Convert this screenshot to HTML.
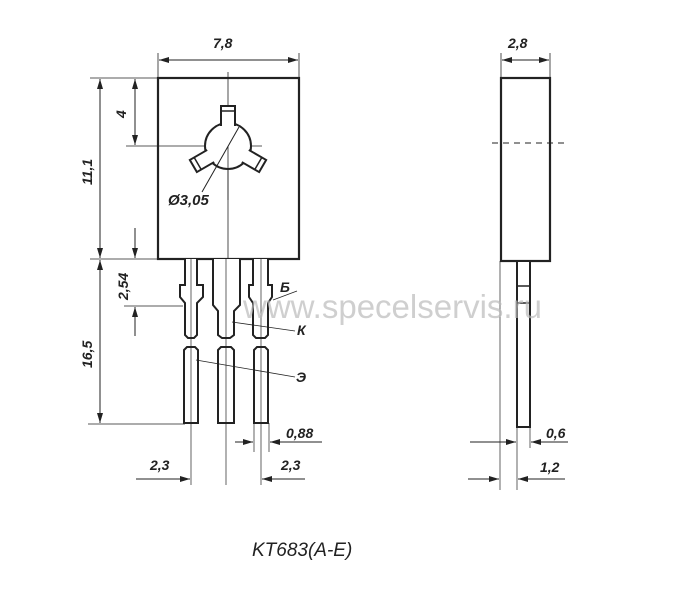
<!DOCTYPE html>
<html><head><meta charset="utf-8"><style>
html,body{margin:0;padding:0;background:#fff;}
svg{display:block;}
text{font-family:"Liberation Sans","DejaVu Sans",sans-serif;font-style:italic;font-weight:bold;fill:#222;}
</style></head><body>
<svg width="686" height="600" viewBox="0 0 686 600" xmlns="http://www.w3.org/2000/svg">
<defs>
<marker id="a" viewBox="0 0 10 6" refX="10" refY="3" markerWidth="10" markerHeight="6" orient="auto-start-reverse" markerUnits="userSpaceOnUse"><path d="M0,0 L10,3 L0,6 z" fill="#222"/></marker>
</defs>
<g stroke="#222" fill="none">
<!-- front body -->
<rect x="158" y="78" width="141" height="181" stroke-width="2.2" fill="#fff"/>
<!-- center lines -->
<line x1="228" y1="72" x2="228" y2="259" stroke-width="0.8"/>
<line x1="126" y1="146" x2="262" y2="146" stroke-width="0.8"/>
<!-- hole -->
<circle cx="228" cy="146" r="23" stroke-width="2" fill="#fff"/>
<g id="tab">
<path d="M221,126 L221,106 L235,106 L235,126" stroke-width="2" fill="#fff"/>
<line x1="221" y1="111" x2="235" y2="111" stroke-width="1.5"/>
</g>
<g transform="rotate(120,228,146)">
<path d="M221,126 L221,106 L235,106 L235,126" stroke-width="2" fill="#fff"/>
<line x1="221" y1="111" x2="235" y2="111" stroke-width="1.5"/>
</g>
<g transform="rotate(240,228,146)">
<path d="M221,126 L221,106 L235,106 L235,126" stroke-width="2" fill="#fff"/>
<line x1="221" y1="111" x2="235" y2="111" stroke-width="1.5"/>
</g>
<line x1="228" y1="146" x2="228" y2="200" stroke-width="0.8"/>
<line x1="239" y1="127" x2="202" y2="192" stroke-width="1"/>
<!-- dims top -->
<line x1="158" y1="53" x2="158" y2="78" stroke-width="0.8"/>
<line x1="299" y1="53" x2="299" y2="78" stroke-width="0.8"/>
<line x1="159" y1="60" x2="298" y2="60" stroke-width="1" marker-start="url(#a)" marker-end="url(#a)"/>
<!-- left dims -->
<line x1="90" y1="78" x2="158" y2="78" stroke-width="0.8"/>
<line x1="90" y1="259" x2="184" y2="259" stroke-width="0.8"/>
<line x1="100" y1="79" x2="100" y2="258" stroke-width="1" marker-start="url(#a)" marker-end="url(#a)"/>
<line x1="135" y1="79" x2="135" y2="145" stroke-width="1" marker-start="url(#a)" marker-end="url(#a)"/>
<line x1="135" y1="228" x2="135" y2="258" stroke-width="1" marker-end="url(#a)"/>
<line x1="135" y1="336" x2="135" y2="307" stroke-width="1" marker-end="url(#a)"/>
<line x1="124" y1="306" x2="183" y2="306" stroke-width="0.8"/>
<line x1="100" y1="260" x2="100" y2="423" stroke-width="1" marker-start="url(#a)" marker-end="url(#a)"/>
<line x1="88" y1="424" x2="185" y2="424" stroke-width="0.8"/>
<!-- pins upper -->
<path d="M185,259 L185,285 L180,285 L180,297 L185,303 L185,335 L188,338 L194,338 L197,335 L197,303 L203,297 L203,285 L197,285 L197,259" stroke-width="2" fill="#fff"/>
<path d="M213,259 L213,305 L218,311 L218,335 L222,338 L230,338 L234,335 L234,311 L240,305 L240,259" stroke-width="2" fill="#fff"/>
<path d="M253,259 L253,285 L249,285 L249,297 L253,303 L253,335 L256,338 L265,338 L268,335 L268,303 L272,297 L272,285 L268,285 L268,259" stroke-width="2" fill="#fff"/>
<!-- pins lower -->
<path d="M184,350 L187,347 L195,347 L198,350 L198,423 L184,423 Z" stroke-width="2" fill="#fff"/>
<path d="M218,350 L221,347 L231,347 L234,350 L234,423 L218,423 Z" stroke-width="2" fill="#fff"/>
<path d="M254,350 L257,347 L265,347 L268,350 L268,423 L254,423 Z" stroke-width="2" fill="#fff"/>
<line x1="191" y1="259" x2="191" y2="485" stroke-width="0.7"/>
<line x1="226" y1="259" x2="226" y2="485" stroke-width="0.7"/>
<line x1="261" y1="259" x2="261" y2="485" stroke-width="0.7"/>
<line x1="254" y1="423" x2="254" y2="452" stroke-width="0.7"/>
<line x1="269" y1="423" x2="269" y2="452" stroke-width="0.7"/>
<!-- leaders -->
<line x1="273" y1="300" x2="297" y2="291" stroke-width="0.8"/>
<line x1="232" y1="322" x2="295" y2="331" stroke-width="0.8"/>
<line x1="196" y1="360" x2="295" y2="377" stroke-width="0.8"/>
<!-- bottom dims -->
<line x1="235" y1="442" x2="253" y2="442" stroke-width="1" marker-end="url(#a)"/>
<line x1="322" y1="442" x2="270" y2="442" stroke-width="1" marker-end="url(#a)"/>
<line x1="136" y1="479" x2="190" y2="479" stroke-width="1" marker-end="url(#a)"/>
<line x1="305" y1="479" x2="262" y2="479" stroke-width="1" marker-end="url(#a)"/>
<!-- side view -->
<rect x="501" y="78" width="49" height="183" stroke-width="2.2" fill="#fff"/>
<line x1="492" y1="143" x2="566" y2="143" stroke-width="1" stroke-dasharray="6,5"/>
<line x1="501" y1="53" x2="501" y2="78" stroke-width="0.8"/>
<line x1="550" y1="53" x2="550" y2="78" stroke-width="0.8"/>
<line x1="502" y1="60" x2="549" y2="60" stroke-width="1" marker-start="url(#a)" marker-end="url(#a)"/>
<rect x="517" y="261" width="13" height="166" stroke-width="2" fill="#fff"/>
<line x1="517" y1="286" x2="530" y2="286" stroke-width="1.5"/>
<line x1="517" y1="303" x2="530" y2="303" stroke-width="1.5"/>
<line x1="500" y1="261" x2="500" y2="490" stroke-width="0.7"/>
<line x1="517" y1="427" x2="517" y2="490" stroke-width="0.7"/>
<line x1="530" y1="427" x2="530" y2="448" stroke-width="0.7"/>
<line x1="470" y1="442" x2="516" y2="442" stroke-width="1" marker-end="url(#a)"/>
<line x1="568" y1="442" x2="531" y2="442" stroke-width="1" marker-end="url(#a)"/>
<line x1="468" y1="479" x2="499" y2="479" stroke-width="1" marker-end="url(#a)"/>
<line x1="565" y1="479" x2="518" y2="479" stroke-width="1" marker-end="url(#a)"/>
</g>
<!-- watermark -->
<text x="243" y="318" style="font-style:normal;font-weight:normal;fill:#bbb;opacity:0.7" font-size="33">www.specelservis.ru</text>
<!-- labels -->
<text x="213" y="48" font-size="14">7,8</text>
<text x="508" y="48" font-size="14">2,8</text>
<text x="168" y="205" font-size="15">Ø3,05</text>
<text transform="translate(126,118) rotate(-90)" font-size="14">4</text>
<text transform="translate(92,185) rotate(-90)" font-size="14">11,1</text>
<text transform="translate(128,300) rotate(-90)" font-size="14">2,54</text>
<text transform="translate(92,368) rotate(-90)" font-size="14">16,5</text>
<text x="280" y="292" font-size="14">Б</text>
<text x="297" y="335" font-size="14">К</text>
<text x="296" y="382" font-size="14">Э</text>
<text x="286" y="438" font-size="14">0,88</text>
<text x="150" y="470" font-size="14">2,3</text>
<text x="281" y="470" font-size="14">2,3</text>
<text x="546" y="438" font-size="14">0,6</text>
<text x="540" y="472" font-size="14">1,2</text>
<text x="252" y="556" font-size="19" style="font-weight:normal">KT683(A-E)</text>
</svg>
</body></html>
